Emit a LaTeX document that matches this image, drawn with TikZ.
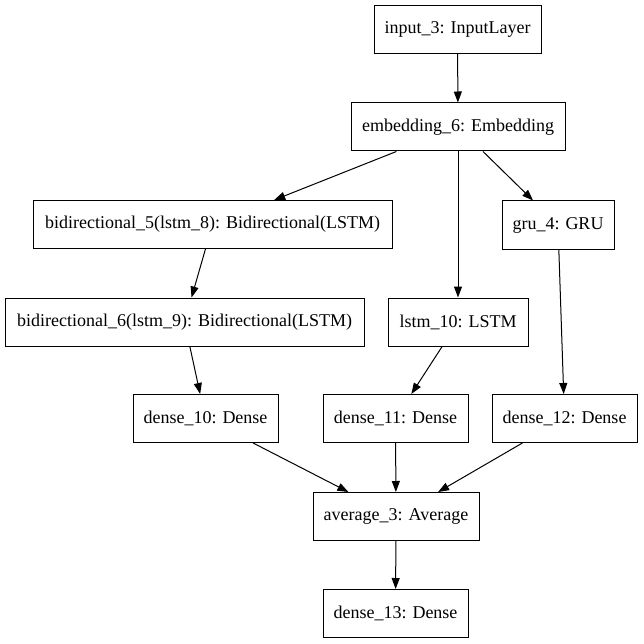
\documentclass[tikz,border=0pt]{standalone}
\usepackage{fontspec}
\setmainfont{Liberation Serif}
\usetikzlibrary{arrows.meta}
\begin{document}
\begin{tikzpicture}[x=1pt,y=-1pt,
  layer/.style={draw=black,line width=1pt,inner sep=0pt,minimum height=48pt,
    font=\fontsize{18}{20}\selectfont,fill=white},
  conn/.style={line width=1pt,-{Triangle[length=11pt,width=8pt]}}]
\useasboundingbox (0,0) rectangle (644,644);
\node[layer,minimum width=167pt] (in) at (457.5,29.5) {input\_3: InputLayer};
\node[layer,minimum width=214pt] (emb) at (458,127) {embedding\_6: Embedding};
\node[layer,minimum width=359pt] (bi5) at (212.5,224.5) {bidirectional\_5(lstm\_8): Bidirectional(LSTM)};
\node[layer,minimum width=112pt] (gru) at (558,225) {gru\_4: GRU};
\node[layer,minimum width=359pt] (bi6) at (184.5,322) {bidirectional\_6(lstm\_9): Bidirectional(LSTM)};
\node[layer,minimum width=140pt] (lstm) at (458,322) {lstm\_10: LSTM};
\node[layer,minimum width=145pt] (d10) at (205.5,418.5) {dense\_10: Dense};
\node[layer,minimum width=145pt] (d11) at (395.5,418.5) {dense\_11: Dense};
\node[layer,minimum width=145pt] (d12) at (564.5,418.5) {dense\_12: Dense};
\node[layer,minimum width=166pt] (avg) at (396,516.5) {average\_3: Average};
\node[layer,minimum width=145pt] (d13) at (395.5,613.5) {dense\_13: Dense};
\draw[conn] (in) -- (emb);
\draw[conn] (emb) -- (bi5);
\draw[conn] (emb) -- (lstm);
\draw[conn] (emb) -- (gru);
\draw[conn] (bi5) -- (bi6);
\draw[conn] (bi6) -- (d10);
\draw[conn] (lstm) -- (d11);
\draw[conn] (gru) -- (d12);
\draw[conn] (d10) -- (avg);
\draw[conn] (d11) -- (avg);
\draw[conn] (d12) -- (avg);
\draw[conn] (avg) -- (d13);
\end{tikzpicture}
\end{document}
